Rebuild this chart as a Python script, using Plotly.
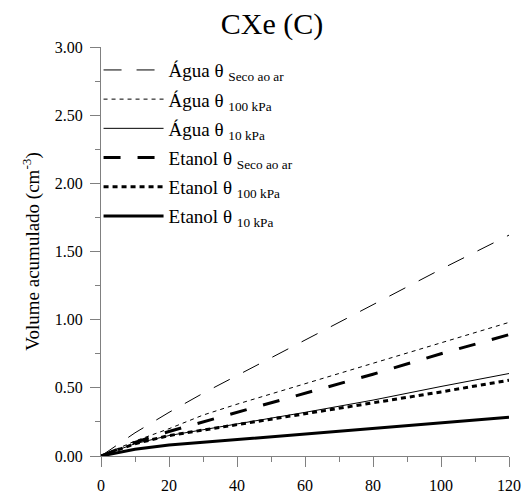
import plotly.graph_objects as go

tempo = [0, 10, 20, 30, 40, 60, 80, 100, 120]

agua_seco = [0, 0.17, 0.32, 0.46, 0.59, 0.85, 1.11, 1.37, 1.62]
agua_100 = [0, 0.11, 0.20, 0.30, 0.38, 0.53, 0.68, 0.83, 0.98]
agua_10 = [0, 0.09, 0.15, 0.19, 0.235, 0.32, 0.41, 0.51, 0.605]
etanol_seco = [0, 0.10, 0.18, 0.25, 0.32, 0.46, 0.60, 0.75, 0.89]
etanol_100 = [0, 0.09, 0.15, 0.19, 0.235, 0.31, 0.39, 0.47, 0.556]
etanol_10 = [0, 0.05, 0.08, 0.10, 0.12, 0.16, 0.20, 0.24, 0.284]

nomes = [
    "Água θ <sub>Seco ao ar</sub>",
    "Água θ <sub>100 kPa</sub>",
    "Água θ <sub>10 kPa</sub>",
    "Etanol θ <sub>Seco ao ar</sub>",
    "Etanol θ <sub>100 kPa</sub>",
    "Etanol θ <sub>10 kPa</sub>",
]
series = [agua_seco, agua_100, agua_10, etanol_seco, etanol_100, etanol_10]
estilos = [
    dict(width=1, dash="18px,15px"),
    dict(width=1, dash="4px,4px"),
    dict(width=1, dash="solid"),
    dict(width=3, dash="17px,17px"),
    dict(width=3, dash="5px,4px"),
    dict(width=3, dash="solid"),
]

fig = go.Figure()
for i, (nome, ys, est) in enumerate(zip(nomes, series, estilos)):
    fig.add_trace(go.Scatter(x=tempo, y=ys, mode="lines", name=nome, legendgroup=f"g{i}",
                             line=dict(color="black", **est)))

F = "Liberation Serif"
fig.update_layout(
    width=529, height=493,
    margin=dict(l=101, r=20, t=47, b=37),
    paper_bgcolor="white", plot_bgcolor="white",
    font=dict(family=F, color="black", size=16),
    title=dict(text="CXe (C)", x=272/529, xanchor="center", y=1 - 23/493, yanchor="middle",
               font=dict(size=30, family=F, color="black")),
    showlegend=True,
    legend=dict(x=-0.006, y=0.99, xanchor="left", yanchor="top", itemwidth=60,
                bgcolor="rgba(0,0,0,0)", font=dict(size=19, family=F, color="black"),
                tracegroupgap=1.5),
)
fig.update_xaxes(range=[0, 120], dtick=20, tick0=0, showgrid=False, zeroline=False,
                 showline=True, linecolor="#808080", linewidth=1, automargin=False,
                 ticks="outside", ticklen=10, tickcolor="#808080",
                 tickfont=dict(size=16, family=F, color="black"), ticklabelstandoff=5,
                 minor=dict(dtick=10, ticks="outside", ticklen=5, tickcolor="#808080"))
fig.update_yaxes(range=[0, 3], dtick=0.5, tick0=0, tickformat=".2f", showgrid=False, zeroline=False,
                 showline=True, linecolor="#808080", linewidth=1, automargin=False,
                 ticks="outside", ticklen=10, tickcolor="#808080",
                 tickfont=dict(size=16, family=F, color="black"), ticklabelstandoff=4,
                 title=dict(text="Volume acumulado (cm<sup>-3</sup>)",
                            font=dict(size=19, family=F, color="black"), standoff=10),
                 minor=dict(dtick=0.25, ticks="outside", ticklen=5, tickcolor="#808080"))

fig.write_html("out.html")
